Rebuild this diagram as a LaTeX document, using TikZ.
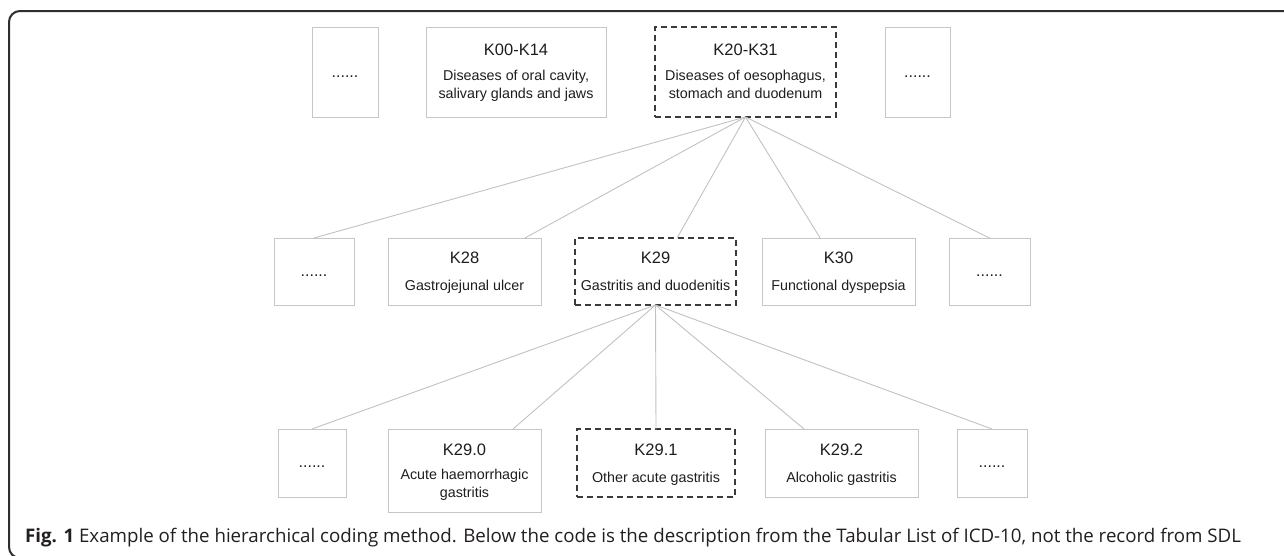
\documentclass[tikz,border=0pt]{standalone}
\usepackage{fontspec}
\setmainfont{Liberation Sans}
\newfontfamily\capfont{Open Sans}
\usetikzlibrary{calc}
\definecolor{boxgray}{HTML}{C6C6C6}
\definecolor{linegray}{HTML}{C2C2C2}
\definecolor{dashgray}{HTML}{3A3A3A}
\definecolor{framegray}{HTML}{2E2E2E}
\definecolor{txt}{HTML}{1E1E1E}
\definecolor{captxt}{HTML}{231F20}
\begin{document}
\begin{tikzpicture}[x=1pt,y=-1pt,
  plainbox/.style={draw=boxgray, line width=1pt, inner sep=0pt, outer sep=0pt, anchor=north west},
  dashbox/.style={draw=dashgray, line width=1.8pt, dash pattern=on 6pt off 4pt, inner sep=0pt, outer sep=0pt, anchor=north west},
  codetxt/.style={anchor=base, inner sep=0pt, text=txt, font=\fontsize{16.5}{19}\selectfont},
  desctxt/.style={anchor=base, inner sep=0pt, text=txt, font=\fontsize{14.3}{18}\selectfont},
  dotstxt/.style={anchor=base, inner sep=0pt, text=txt, font=\fontsize{16}{19}\selectfont},
  conn/.style={draw=linegray, line width=0.9pt},
]
\useasboundingbox (0,0) rectangle (1284,555);
\fill[white] (0,0) rectangle (1284,555);
% frame
\draw[framegray, line width=2pt, rounded corners=11pt] (1300,11) -- (9,11) -- (9,558) -- (1300,558);

% top row
\node[plainbox, minimum width=66pt, minimum height=90pt] (t1) at (312,27) {};
\node[plainbox, minimum width=180pt, minimum height=90pt] (t2) at (426,27) {};
\node[dashbox, minimum width=181pt, minimum height=90pt] (t3) at (655,27) {};
\node[plainbox, minimum width=65pt, minimum height=90pt] (t4) at (885,27) {};
\node[dotstxt] (t1d) at (345,77) {......};
\node[codetxt] (t2c) at (516,55) {K00-K14};
\node[desctxt] (t2a) at (516,80) {Diseases of oral cavity,};
\node[desctxt] (t2b) at (516,98) {salivary glands and jaws};
\node[codetxt] (t3c) at (745.5,55) {K20-K31};
\node[desctxt] (t3a) at (745.5,80) {Diseases of oesophagus,};
\node[desctxt] (t3b) at (745.5,98) {stomach and duodenum};
\node[dotstxt] (t4d) at (917.5,77) {......};

% middle row
\node[plainbox, minimum width=80pt, minimum height=67pt] (m1) at (274,238) {};
\node[plainbox, minimum width=153pt, minimum height=67pt] (m2) at (388,238) {};
\node[dashbox, minimum width=161pt, minimum height=67pt] (m3) at (575,238) {};
\node[plainbox, minimum width=153pt, minimum height=67pt] (m4) at (762,238) {};
\node[plainbox, minimum width=81pt, minimum height=67pt] (m5) at (949,238) {};
\node[dotstxt] (m1d) at (314,276) {......};
\node[codetxt] (m2c) at (464.5,263) {K28};
\node[desctxt] (m2a) at (464.5,290) {Gastrojejunal ulcer};
\node[codetxt] (m3c) at (655.5,263) {K29};
\node[desctxt] (m3a) at (655.5,290) {Gastritis and duodenitis};
\node[codetxt] (m4c) at (838.5,263) {K30};
\node[desctxt] (m4a) at (838.5,290) {Functional dyspepsia};
\node[dotstxt] (m5d) at (989.5,276) {......};

% bottom row
\node[plainbox, minimum width=68pt, minimum height=68pt] (b1) at (278,429) {};
\node[plainbox, minimum width=153pt, minimum height=83pt] (b2) at (388,429) {};
\node[dashbox, minimum width=158pt, minimum height=68pt] (b3) at (577,429) {};
\node[plainbox, minimum width=153pt, minimum height=68pt] (b4) at (765,429) {};
\node[plainbox, minimum width=70pt, minimum height=68pt] (b5) at (957,429) {};
\node[dotstxt] (b1d) at (312,467) {......};
\node[codetxt] (b2c) at (464.5,455) {K29.0};
\node[desctxt] (b2a) at (464.5,479) {Acute haemorrhagic};
\node[desctxt] (b2b) at (464.5,497) {gastritis};
\node[codetxt] (b3c) at (656,455) {K29.1};
\node[desctxt] (b3a) at (656,482) {Other acute gastritis};
\node[codetxt] (b4c) at (841.5,455) {K29.2};
\node[desctxt] (b4a) at (841.5,482) {Alcoholic gastritis};
\node[dotstxt] (b5d) at (992,467) {......};

% connectors top -> middle
\draw[conn] (t3.south) -- (m1.north);
\draw[conn] (t3.south) -- ($(m2.north west)!0.895!(m2.north east)$);
\draw[conn] (t3.south) -- ($(m3.north west)!0.634!(m3.north east)$);
\draw[conn] (t3.south) -- ($(m4.north west)!0.38!(m4.north east)$);
\draw[conn] (t3.south) -- (m5.north);
% connectors middle -> bottom
\draw[conn] (m3.south) -- (b1.north);
\draw[conn] (m3.south) -- ($(b2.north west)!0.817!(b2.north east)$);
\draw[conn] (m3.south) -- ($(b3.north west)!0.5!(b3.north east)$);
\draw[conn] (m3.south) -- ($(b4.north west)!0.255!(b4.north east)$);
\draw[conn] (m3.south) -- (b5.north);

% caption
\node[anchor=base west, inner sep=0pt, text=captxt, font=\capfont\fontsize{18.7}{22}\selectfont] (cap) at (25,542)
  {\textbf{Fig. 1} Example of the hierarchical coding method. Below the code is the description from the Tabular List of ICD-10, not the record from SDL};
\end{tikzpicture}
\end{document}
